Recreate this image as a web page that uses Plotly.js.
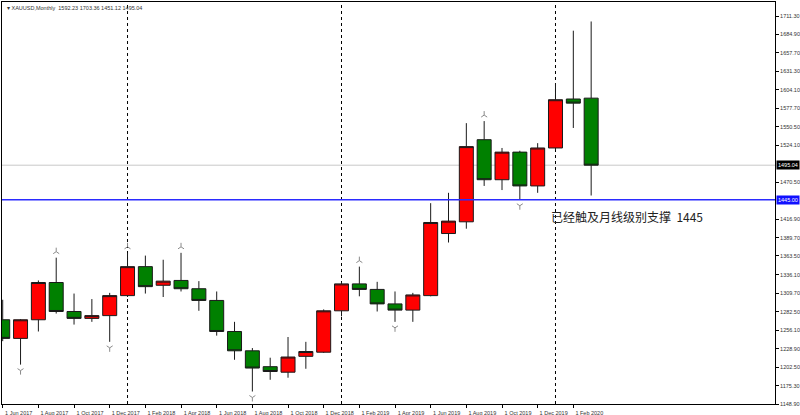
<!DOCTYPE html>
<html>
<head>
<meta charset="utf-8">
<script src="https://cdn.plot.ly/plotly-3.0.1.min.js"></script>
<style>html,body{margin:0;padding:0;background:#fff;}#chart{width:800px;height:415px;}</style>
</head>
<body>
<div id="chart"></div>
<script>
// ---- data (XAUUSD, Monthly) ----
const months = ['Jun 2017','Jul 2017','Aug 2017','Sep 2017','Oct 2017','Nov 2017','Dec 2017',
  'Jan 2018','Feb 2018','Mar 2018','Apr 2018','May 2018','Jun 2018','Jul 2018','Aug 2018','Sep 2018','Oct 2018','Nov 2018','Dec 2018',
  'Jan 2019','Feb 2019','Mar 2019','Apr 2019','May 2019','Jun 2019','Jul 2019','Aug 2019','Sep 2019','Oct 2019','Nov 2019','Dec 2019',
  'Jan 2020','Feb 2020','Mar 2020'];
const openP  = [1271,1244,1271,1325,1283,1273,1277, 1306,1348,1321,1328,1316,1299,1254,1226,1203,1195,1218,1224, 1284,1323,1315,1294,1285,1306,1396,1413,1532,1474,1514,1465, 1520,1591,1592.23];
const highP  = [1300,1272,1328,1361,1309,1301,1310, 1368,1364,1358,1368,1327,1312,1268,1230,1216,1246,1239,1286, 1326,1348,1326,1312,1310,1440,1455,1556,1559,1520,1516,1527, 1614,1690,1703.36];
const lowP   = [1240,1206,1254,1280,1264,1268,1239, 1304,1309,1304,1312,1284,1248,1213,1167,1184,1187,1200,1223, 1276,1305,1283,1268,1268,1305,1383,1403,1465,1459,1445,1455, 1517,1549,1451.12];
const closeP = [1244,1271,1325,1283,1273,1277,1306, 1348,1319,1327,1316,1299,1254,1226,1201,1196,1217,1225,1284, 1323,1315,1294,1285,1307,1412,1414,1522,1474,1514,1465,1520, 1590,1585,1495.04];
const fractalUp   = ['Sep 2017','Jan 2018','Apr 2018','Feb 2019','Sep 2019'];
const fractalDown = ['Jul 2017','Dec 2017','Aug 2018','Apr 2019','Nov 2019'];
const yearSeparators = ['Jan 2018','Jan 2019','Jan 2020'];
const xTickMonths = ['Jun 2017','Aug 2017','Oct 2017','Dec 2017','Feb 2018','Apr 2018','Jun 2018','Aug 2018','Oct 2018','Dec 2018',
  'Feb 2019','Apr 2019','Jun 2019','Aug 2019','Oct 2019','Dec 2019','Feb 2020'];
const xTickLabels = ['1 Jun 2017','1 Aug 2017','1 Oct 2017','1 Dec 2017','1 Feb 2018','1 Apr 2018','1 Jun 2018','1 Aug 2018','1 Oct 2018','1 Dec 2018',
  '1 Feb 2019','1 Apr 2019','1 Jun 2019','1 Aug 2019','1 Oct 2019','1 Dec 2019','1 Feb 2020'];
const yTickValues = [1711.30,1684.90,1657.70,1631.30,1604.10,1577.70,1550.50,1524.10,1470.50,
  1416.90,1389.70,1363.50,1336.10,1309.70,1282.50,1256.10,1228.90,1202.50,1175.30,1148.90];
const symbolName = 'XAUUSD,Monthly';
const supportLevel = 1445;
const supportText = '已经触及月线级别支撑  1445';

// ---- layout helpers ----
const W = 800, H = 415;
const margin = {l: 2, r: 25, t: 2, b: 11};
const yRange = [1148.9, 1731.6];
const xRange = [-0.04, 43.31];
const plotH = H - margin.t - margin.b;
const pxToPrice = (yRange[1] - yRange[0]) / plotH;
const last = closeP.length - 1;
const currentPrice = closeP[last];

const idx = m => months.indexOf(m);

const candles = {
  type: 'candlestick',
  x: months, open: openP, high: highP, low: lowP, close: closeP,
  increasing: {line: {color: '#1a1a1a', width: 1}, fillcolor: '#ff0000'},
  decreasing: {line: {color: '#1a1a1a', width: 1}, fillcolor: '#008000'},
  whiskerwidth: 0,
  hoverinfo: 'none',
  showlegend: false
};
const upMarks = {
  type: 'scatter', mode: 'markers',
  x: fractalUp, y: fractalUp.map(m => highP[idx(m)] + 6 * pxToPrice),
  marker: {symbol: 'y-up-open', size: 5, line: {color: '#8a8a8a', width: 1}, color: '#8a8a8a'},
  hoverinfo: 'none', showlegend: false
};
const downMarks = {
  type: 'scatter', mode: 'markers',
  x: fractalDown, y: fractalDown.map(m => lowP[idx(m)] - 6 * pxToPrice),
  marker: {symbol: 'y-down-open', size: 5, line: {color: '#8a8a8a', width: 1}, color: '#8a8a8a'},
  hoverinfo: 'none', showlegend: false
};

const shapes = [
  {type: 'line', xref: 'paper', x0: 0, x1: 1, yref: 'y', y0: currentPrice, y1: currentPrice,
   line: {color: '#c8c8c8', width: 1}, layer: 'below'},
  {type: 'line', xref: 'paper', x0: 0, x1: 1, yref: 'y', y0: supportLevel, y1: supportLevel,
   line: {color: '#2b2bff', width: 1.5}}
];
yearSeparators.forEach(m => shapes.push({
  type: 'line', xref: 'x', x0: idx(m), x1: idx(m), yref: 'paper', y0: 0, y1: 1,
  line: {color: '#000', width: 1, dash: 'dot'}, layer: 'below'
}));

const annotations = [
  {xref: 'paper', yref: 'paper', x: 0, y: 1, xanchor: 'left', yanchor: 'top', xshift: 3, yshift: -1,
   text: '▾ ' + symbolName + '  ' + [openP[last], highP[last], lowP[last], closeP[last]].map(v => v.toFixed(2)).join(' '),
   showarrow: false, font: {family: 'Liberation Sans, Arial, sans-serif', size: 5.5, color: '#333'}},
  {xref: 'paper', yref: 'y', x: 1, y: currentPrice, xanchor: 'left', yanchor: 'middle', xshift: 1,
   text: currentPrice.toFixed(2), showarrow: false, bgcolor: '#000', borderpad: 1,
   font: {family: 'Liberation Sans, Arial, sans-serif', size: 5.5, color: '#fff'}},
  {xref: 'paper', yref: 'y', x: 1, y: supportLevel, xanchor: 'left', yanchor: 'middle', xshift: 1,
   text: supportLevel.toFixed(2), showarrow: false, bgcolor: '#1010ff', borderpad: 1,
   font: {family: 'Liberation Sans, Arial, sans-serif', size: 5.5, color: '#fff'}},
  {xref: 'paper', yref: 'y', x: (549 - margin.l) / (W - margin.l - margin.r), y: supportLevel - 25,
   xanchor: 'left', yanchor: 'middle', text: supportText, showarrow: false,
   font: {family: 'Noto Sans CJK SC, sans-serif', size: 12, color: '#222'}}
];

const layout = {
  width: W, height: H, margin: margin,
  paper_bgcolor: '#fff', plot_bgcolor: '#fff',
  boxgap: 0.215, boxgroupgap: 0,
  xaxis: {
    type: 'category', range: xRange, rangeslider: {visible: false},
    tickmode: 'array', tickvals: xTickMonths, ticktext: xTickLabels,
    ticks: 'outside', ticklen: 3, tickcolor: '#000', ticklabelshift: 16, ticklabelstandoff: 0,
    tickfont: {family: 'Liberation Sans, Arial, sans-serif', size: 5.5, color: '#333'},
    showgrid: false, zeroline: false, showline: true, linecolor: '#000', linewidth: 1, mirror: true
  },
  yaxis: {
    side: 'right', range: yRange, tickmode: 'array', tickvals: yTickValues,
    ticktext: yTickValues.map(v => v.toFixed(2)),
    ticks: 'outside', ticklen: 3, tickcolor: '#000',
    tickfont: {family: 'Liberation Sans, Arial, sans-serif', size: 5.5, color: '#333'},
    showgrid: false, zeroline: false, showline: true, linecolor: '#000', linewidth: 1, mirror: true
  },
  shapes: shapes, annotations: annotations, showlegend: false
};

Plotly.newPlot('chart', [candles, upMarks, downMarks], layout, {displayModeBar: false, staticPlot: true});
</script>
</body>
</html>
